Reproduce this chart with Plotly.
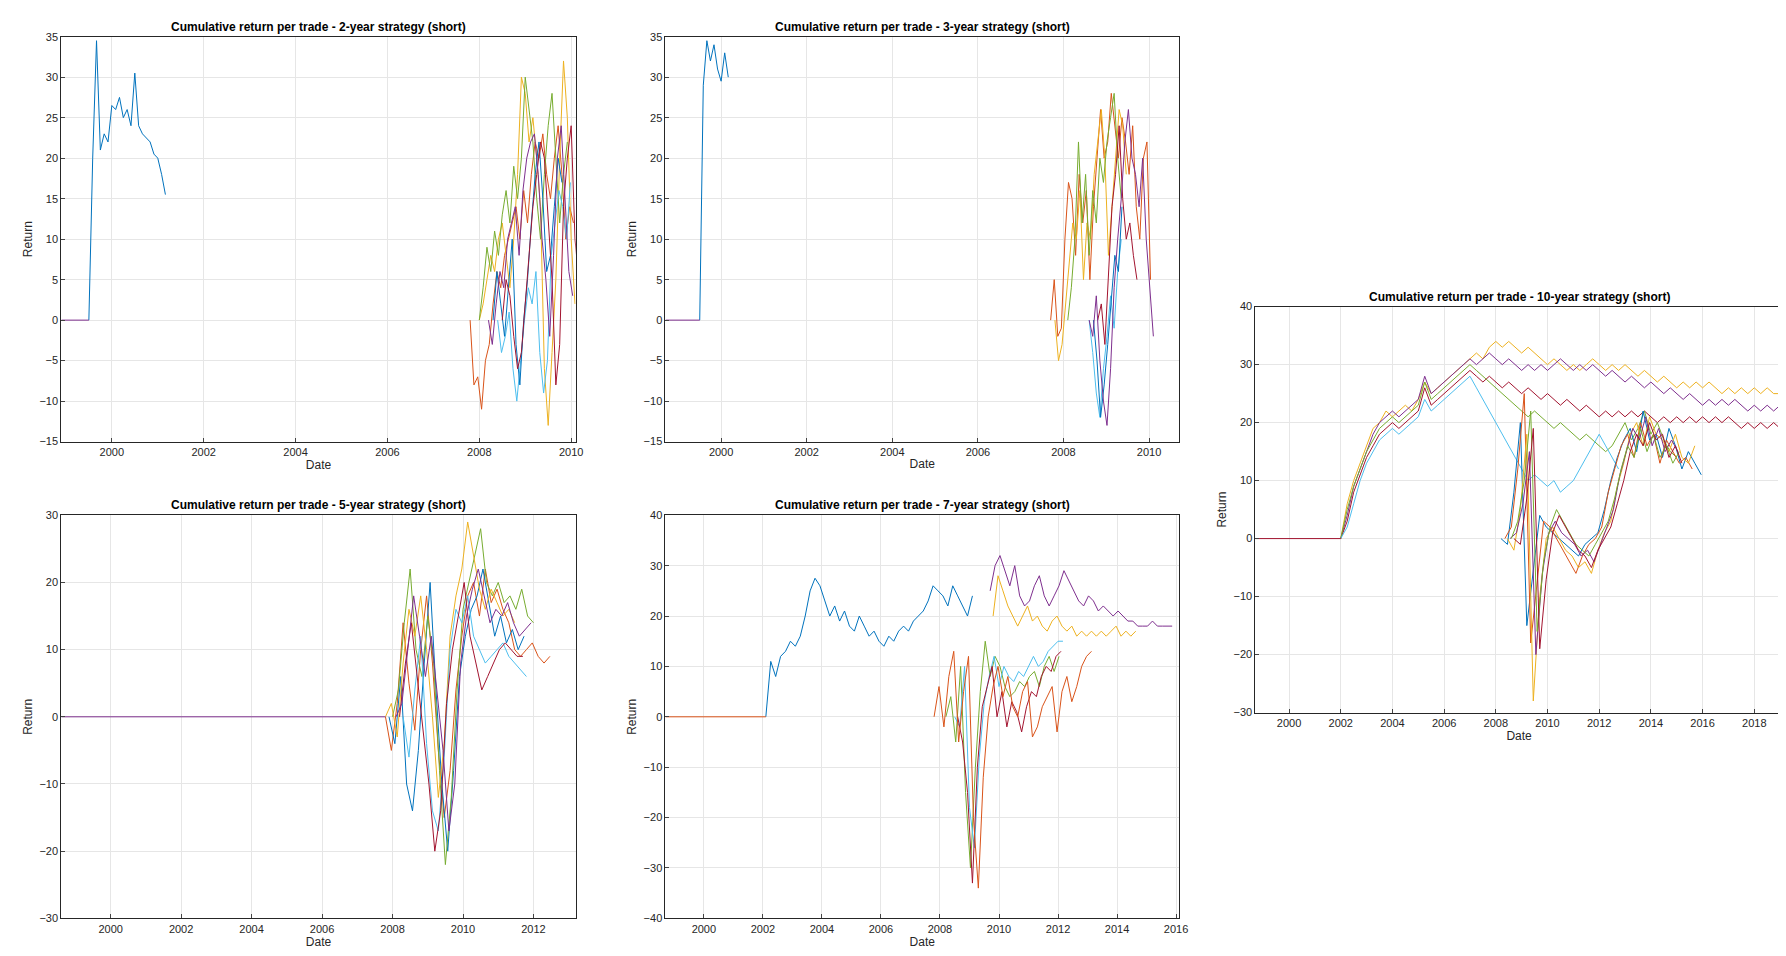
import numpy as np
import plotly.graph_objects as go

# MATLAB default line colours
BLUE, ORANGE, YELLOW, PURPLE, GREEN, LBLUE, RED = (
    "#0072BD", "#D95319", "#EDB120", "#7E2F8E", "#77AC30", "#4DBEEE", "#A2142F")

# ---- 2-year strategy (monthly steps) ----
p1_blue = [0, 20, 34.5, 21, 23, 22, 26.5, 26, 27.5, 25, 26, 24, 30.5, 24, 23, 22.5, 22, 20.5, 20, 18, 15.5]
p1_orange = [0, -8, -7, -11, -5, -3, 2, 6, 4, 8, 10, 12, 14, 10, 16, 12, 18, 22, 20, 23, 18, 15, 20, 24, 18, 10, 14, 12]
p1_yellow = [0, 2, 5, 8, 6, 10, 12, 8, 4, 10, 18, 30, 28, 22, 25, 20, 14, -6, -13, -4, 5, 20, 32, 25, 10, 2]
p1_green = [0, 4, 9, 6, 11, 8, 13, 16, 12, 19, 15, 20, 30, 26, 22, 15, 10, 18, 24, 28, 20, 12, 18, 22]
p1_purple = [0, -3, 2, 6, 4, 10, 12, 14, 8, 16, 20, 22, 23, 18, 10, 5, -2, 8, 20, 24, 15, 6, 3]
p1_lblue = [0, -4, -2, 1, -6, -10, -5, 0, 4, 2, 6, -4, -9, -5, 8, 12, 16, 14, 10, 17]
p1_red = [0, 5, 3, -2, -6, -4, 2, 8, 14, 18, 22, 20, 12, 5, -8, -3, 14, 20, 24, 10, 5]
p1_blue2 = [0, 6, 2, -2, 4, 10, -3, -8, 0, 5, 12, 18, 22, 15, 6, 8, 14, 20, 17]

# ---- 3-year strategy (monthly steps) ----
p2_blue = [0, 29, 34.5, 32, 34, 31, 29.5, 33, 30]
p2_orange = [0, 5, -2, -1, 10, 17, 15, 8, 18, 12, 16, 5, 14, 20, 26, 20, 22, 28, 24, 20, 25, 22, 18, 24, 14, 10, 20, 22, 5]
p2_yellow = [0, -5, -3, 2, 8, 12, 10, 16, 5, 12, 10, 18, 22, 26, 20, 8, 14, 20, 26, 24, 18]
p2_green = [0, 4, 10, 22, 12, 18, 8, 16, 12, 20, 17, 22, 25, 28, 20, 15]
p2_purple = [0, -2, 3, -5, -10, -13, -6, 4, 10, 15, 22, 26, 20, 18, 14, 20, 10, 4, -2]
p2_lblue = [0, -4, -9, -12, -6, -2, 3, -1, 6, 10]
p2_red = [0, 2, -3, 6, 14, 18, 24, 15, 10, 12, 8, 5]
p2_blue2 = [0, -5, -12, -8, -3, 2, 8, 6, 14]

# ---- 5-year strategy (two-month steps) ----
p3_orange = [0, -5, 2, 14, 5, -2, 10, 18, 8, -5, -15, -8, 4, 12, 18, 20, 15, 22, 17, 19, 16, 14, 10, 9, 10, 11, 9, 8, 9]
p3_blue = [0, -4, 6, -10, -14, -5, 8, 20, 4, -10, -20, -8, 6, 12, 16, 18, 22, 17, 12, 15, 11, 13, 10, 12]
p3_green = [0, 4, 14, 22, 10, 6, 15, 8, -8, -22, -12, 4, 16, 20, 24, 28, 20, 18, 20, 17, 18, 16, 19, 15, 14]
p3_purple = [0, 2, 10, 18, 12, 6, 12, 4, -5, -17, -10, 8, 15, 19, 22, 18, 14, 16, 15, 17, 14, 12, 13, 14]
p3_yellow = [0, 2, -3, 8, 16, 12, 18, 10, 0, -12, -4, 12, 18, 22, 29, 24, 19, 16, 19, 17, 15, 16, 14]
p3_lblue = [0, -6, 4, 12, -4, -14, -17, -6, 10, 16, 14, 18, 12, 10, 8, 9, 10, 11, 9, 8, 7, 6]
p3_red = [0, 8, 14, 6, -2, -10, -20, -14, 2, 10, 15, 20, 12, 8, 4, 6, 8, 10, 11, 10, 9, 9]

# ---- 7-year strategy (two-month steps) ----
p4_blue = [0, 11, 8, 12, 13, 15, 14, 16, 20, 25, 27.5, 26, 23, 20, 22, 19, 21, 18, 17, 20, 18, 16, 17, 15,
           14, 16, 15, 17, 18, 17, 19, 20, 21, 23, 26, 25, 24, 22, 26, 24, 22, 20, 24]
p4_purple = [25, 30, 32, 29, 26, 30, 24, 22, 23, 26, 28, 24, 22, 24, 26, 29, 27, 25, 23, 22, 24, 23, 21, 22,
             21, 20, 21, 20, 19, 19, 18, 18, 18, 19, 18, 18, 18, 18]
p4_yellow = [20, 28, 25, 22, 20, 18, 20, 22, 19, 20, 18, 17, 19, 20, 18, 17, 18, 16, 17, 16, 17, 16, 17, 16,
             17, 18, 16, 17, 16, 17]
p4_orange = [0, 6, -2, 8, 13, -5, 5, 12, -20, -34, -12, 0, 6, 10, 4, 8, 2, 0, 5, 7, -4, -2, 2, 4, 6, -3, 5, 8, 3, 6, 10, 12, 13]
p4_green = [0, 4, -5, 10, -15, -30, -10, 5, 15, 8, 12, 10, 6, 4, 5, 7, 6, 8, 9, 6, 10, 12, 9, 12]
p4_lblue = [0, -2, 10, -18, -26, -8, 3, 8, 12, 6, 10, 8, 7, 9, 8, 10, 12, 10, 11, 13, 14, 15, 15]
p4_red = [0, -5, -15, -33, -10, 2, 6, 10, 0, 5, -2, 3, 1, -3, 2, 5, 4, 8, 10, 9, 12, 13]

# ---- 10-year strategy (quarterly steps) ----
p5_yellow = [0, 6, 10, 13, 16, 19, 20, 22, 21, 22, 23, 22, 24, 27, 25, 26, 27, 28, 29, 30, 31, 32, 31, 33, 34,
             33, 34, 33, 32, 33, 32, 31, 30, 31, 30, 29, 30, 29, 30, 31, 30, 29, 30, 29, 30, 29, 28, 29, 28, 27,
             28, 27, 26, 27, 26, 27, 26, 27, 26, 25, 26, 25, 26, 25, 26, 25, 26, 25, 25]
p5_purple = [0, 4, 9, 12, 15, 18, 20, 21, 22, 21, 22, 23, 24, 28, 25, 26, 27, 28, 29, 30, 31, 30, 31, 32, 31,
             30, 31, 30, 29, 30, 29, 30, 29, 30, 31, 30, 29, 30, 29, 30, 29, 28, 29, 28, 27, 28, 27, 26, 27, 26,
             25, 26, 25, 24, 25, 24, 23, 24, 23, 24, 23, 24, 23, 22, 23, 22, 23, 22, 23]
p5_red = [0, 3, 8, 11, 14, 16, 18, 19, 20, 19, 20, 21, 22, 26, 23, 24, 25, 26, 27, 28, 29, 28, 27, 28, 27, 26,
          27, 26, 25, 26, 25, 24, 25, 24, 23, 24, 23, 22, 23, 22, 21, 22, 21, 22, 21, 22, 21, 22, 21, 20, 21, 20,
          21, 20, 21, 20, 21, 20, 21, 20, 21, 20, 19, 20, 19, 20, 19, 20, 19]
p5_green = [0, 5, 9, 12, 15, 17, 19, 20, 21, 20, 21, 22, 23, 27, 24, 25, 26, 27, 28, 29, 30, 29, 28, 27, 26, 25,
            24, 23, 22, 21, 22, 21, 20, 19, 20, 19, 18, 17, 18, 17, 16, 15, 16, 18, 20, 17, 19, 22, 18, 20, 17, 15, 14]
p5_lblue = [0, 2, 6, 10, 13, 15, 17, 18, 19, 18, 19, 20, 21, 24, 22, 23, 24, 25, 26, 27, 28, 26, 24, 22, 20, 18,
            16, 14, 12, 10, 11, 10, 9, 10, 8, 9, 10, 12, 14, 16, 18, 16, 14, 12]
p5_l_blue = [0, -1, 8, 20, -15, -5, 4, 2, 1, 0, -1, -2, -3, -1, 0, 1, 5, 10, 14, 17, 19, 15, 22, 17, 18, 14, 19, 16, 12, 15, 13, 11]
p5_l_orange = [0, 2, 12, 25, -18, -8, 3, 2, 0, -2, -4, -6, -3, -1, 0, 2, 8, 12, 16, 18, 14, 20, 16, 18, 13, 17, 15, 13, 14, 12]
p5_l_yellow = [0, -2, 5, 18, -28, -10, 0, 2, 0, -2, -3, -5, -4, -6, -2, 1, 3, 9, 13, 18, 20, 16, 21, 18, 17, 15, 18, 14, 13, 16]
p5_l_purple = [0, 1, 6, 15, -20, -6, 1, 3, 1, 0, -1, -3, -2, -4, -1, 2, 5, 11, 15, 19, 17, 21, 16, 19, 15, 17, 15]
p5_l_green = [0, 3, 10, 22, -16, -4, 2, 5, 3, 1, -1, -2, -3, -1, 1, 3, 7, 12, 16, 14, 19, 15, 18, 14, 16, 13, 15]
p5_l_red = [0, -1, 7, 19, -19, -7, 1, 4, 2, 0, -2, -3, -5, -2, 0, 2, 6, 10, 15, 18, 16, 20, 17, 18, 14, 16, 13]

# panel: (title, axis index, x range, y range, y dtick, series list)
# series: (values, start year, step in years, colour)
M, B, Q = 1 / 12, 1 / 6, 1 / 4
panels = [
    ("Cumulative return per trade - 2-year strategy (short)", 1, [1998.9, 2010.1], [-15, 35], 5, [
        (p1_blue, 1999.5, M, BLUE), (p1_orange, 2007.8, M, ORANGE), (p1_yellow, 2008.0, M, YELLOW),
        (p1_green, 2008.0, M, GREEN), (p1_lblue, 2008.4, M, LBLUE), (p1_blue2, 2008.3, M, BLUE),
        (p1_red, 2008.5, M, RED), (p1_purple, 2008.2, M, PURPLE)]),
    ("Cumulative return per trade - 3-year strategy (short)", 2, [1998.7, 2010.7], [-15, 35], 5, [
        (p2_blue, 1999.5, M, BLUE), (p2_orange, 2007.7, M, ORANGE), (p2_yellow, 2007.8, M, YELLOW),
        (p2_green, 2008.1, M, GREEN), (p2_lblue, 2008.6, M, LBLUE), (p2_blue2, 2008.7, M, BLUE),
        (p2_red, 2008.8, M, RED), (p2_purple, 2008.6, M, PURPLE)]),
    ("Cumulative return per trade - 5-year strategy (short)", 3, [1998.6, 2013.2], [-30, 30], 10, [
        (p3_orange, 2007.8, B, ORANGE), (p3_blue, 2007.9, B, BLUE), (p3_green, 2008.0, B, GREEN),
        (p3_yellow, 2007.8, B, YELLOW), (p3_lblue, 2008.3, B, LBLUE), (p3_red, 2008.2, B, RED),
        (p3_purple, 2008.1, B, PURPLE)]),
    ("Cumulative return per trade - 7-year strategy (short)", 4, [1998.7, 2016.1], [-40, 40], 10, [
        (p4_blue, 2002.1, B, BLUE), (p4_purple, 2009.7, B, PURPLE), (p4_yellow, 2009.8, B, YELLOW),
        (p4_green, 2008.2, B, GREEN), (p4_lblue, 2008.5, B, LBLUE), (p4_red, 2008.6, B, RED),
        (p4_orange, 2007.8, B, ORANGE)]),
    ("Cumulative return per trade - 10-year strategy (short)", 5, [1998.7, 2019.1], [-30, 40], 10, [
        (p5_yellow, 2002.0, Q, YELLOW), (p5_purple, 2002.0, Q, PURPLE), (p5_red, 2002.0, Q, RED),
        (p5_green, 2002.0, Q, GREEN), (p5_lblue, 2002.0, Q, LBLUE),
        (p5_l_blue, 2008.2, Q, BLUE), (p5_l_orange, 2008.35, Q, ORANGE), (p5_l_yellow, 2008.45, Q, YELLOW),
        (p5_l_purple, 2008.55, Q, PURPLE), (p5_l_green, 2008.6, Q, GREEN), (p5_l_red, 2008.7, Q, RED)]),
]

# axis domains (fractions of the page)
domains = {
    1: ([0.030, 0.3195], [0.547, 0.976]),
    2: ([0.370, 0.659], [0.547, 0.976]),
    3: ([0.030, 0.3195], [0.042, 0.469]),
    4: ([0.370, 0.659], [0.042, 0.469]),
    5: ([0.702, 0.9987], [0.260, 0.690]),
}

fig = go.Figure()
font = "Liberation Sans, Arial, sans-serif"
layout = {}
annotations = []
for title, k, xr, yr, ydt, series in panels:
    xa, ya = ("x" if k == 1 else f"x{k}"), ("y" if k == 1 else f"y{k}")
    for vals, start, step, col in series:
        x = start + np.arange(len(vals)) * step
        fig.add_trace(go.Scatter(x=x, y=vals, mode="lines", line=dict(color=col, width=1),
                                 xaxis=xa, yaxis=ya, showlegend=False))
    # flat zero line before trades start
    last_col = series[-1][3]
    first_start = min(s[1] for s in series)
    fig.add_trace(go.Scatter(x=[xr[0], first_start], y=[0, 0], mode="lines",
                             line=dict(color=last_col, width=1), xaxis=xa, yaxis=ya, showlegend=False))
    xd, yd = domains[k]
    common = dict(showline=True, mirror=True, linecolor="#262626", linewidth=1, showgrid=True,
                  gridcolor="#e6e6e6", zeroline=False, ticks="inside", ticklen=4,
                  tickfont=dict(size=11, color="#262626"))
    layout["xaxis" if k == 1 else f"xaxis{k}"] = dict(
        domain=xd, range=xr, dtick=2, tick0=2000, anchor=ya,
        title=dict(text="Date", font=dict(size=12), standoff=2), **common)
    layout["yaxis" if k == 1 else f"yaxis{k}"] = dict(
        domain=yd, range=yr, dtick=ydt, anchor=xa,
        title=dict(text="Return", font=dict(size=12), standoff=4), **common)
    annotations.append(dict(text=f"<b>{title}</b>", x=(xd[0] + xd[1]) / 2, y=yd[1], xref="paper",
                            yref="paper", xanchor="center", yanchor="bottom", yshift=1, showarrow=False,
                            font=dict(size=12, color="#000")))

fig.update_layout(**layout)
fig.update_layout(annotations=annotations, width=1786, height=956, plot_bgcolor="white",
                  paper_bgcolor="white", margin=dict(l=0, r=0, t=0, b=0),
                  font=dict(family=font, color="#262626"))
fig.write_html("out.html")
